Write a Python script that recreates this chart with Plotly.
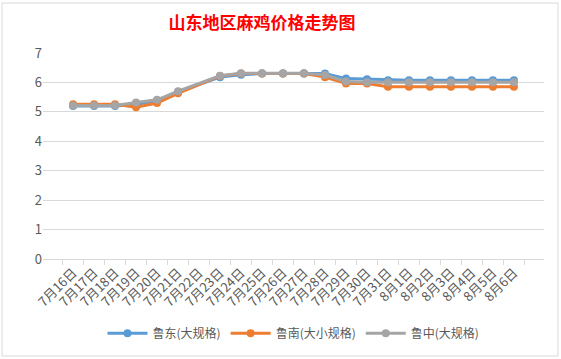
import plotly.graph_objects as go

categories = ["7月16日", "7月17日", "7月18日", "7月19日", "7月20日", "7月21日", "7月22日",
              "7月23日", "7月24日", "7月25日", "7月26日", "7月27日", "7月28日", "7月29日",
              "7月30日", "7月31日", "8月1日", "8月2日", "8月3日", "8月4日", "8月5日", "8月6日"]

ludong = [5.2, 5.2, 5.2, 5.25, 5.38, 5.67, None, 6.18, 6.26, 6.3, 6.3, 6.3, 6.3, 6.13,
          6.11, 6.07, 6.07, 6.07, 6.07, 6.07, 6.07, 6.07]
lunan = [5.26, 5.26, 5.26, 5.16, 5.3, 5.63, None, 6.22, 6.3, 6.3, 6.3, 6.3, 6.18, 5.96,
         5.96, 5.85, 5.85, 5.85, 5.85, 5.85, 5.85, 5.85]
luzhong = [5.22, 5.22, 5.22, 5.32, 5.41, 5.7, None, 6.23, 6.31, 6.31, 6.31, 6.31, 6.25, 6.03,
           6.01, 6.01, 6.01, 6.01, 6.01, 6.01, 6.01, 6.01]

series = [("鲁东(大规格)", ludong, "#5B9BD5"),
          ("鲁南(大小规格)", lunan, "#ED7D31"),
          ("鲁中(大规格)", luzhong, "#A5A5A5")]

font_family = "Noto Sans CJK SC, Noto Sans, sans-serif"
text_color = "#595959"

fig = go.Figure()
for name, vals, color in series:
    fig.add_trace(go.Scatter(
        x=categories, y=vals, name=name, mode="lines+markers",
        connectgaps=True,
        line=dict(color=color, width=3),
        marker=dict(color=color, size=8),
    ))

fig.update_layout(
    width=561, height=359,
    paper_bgcolor="white", plot_bgcolor="white",
    margin=dict(l=43, r=17, t=53, b=100, autoexpand=False),
    title=dict(text="<b>山东地区麻鸡价格走势图</b>", x=0.467, xanchor="center",
               y=0.935, yanchor="middle",
               font=dict(family=font_family, size=17, color="#FF0000")),
    font=dict(family=font_family, size=12, color=text_color),
    showlegend=True,
    legend=dict(orientation="h", x=0.5, xanchor="center", y=-0.36, yanchor="middle",
                font=dict(size=12, color=text_color), itemwidth=40,
                bgcolor="rgba(0,0,0,0)"),
    xaxis=dict(type="category", tickangle=-45, showgrid=False, automargin=False,
               showline=True, linecolor="#D9D9D9", linewidth=1,
               ticks="outside", tickson="boundaries", ticklen=5, tickcolor="#D9D9D9",
               tickfont=dict(size=13, color=text_color)),
    yaxis=dict(range=[0, 7], dtick=1, showgrid=True, gridcolor="#D9D9D9", gridwidth=1,
               zeroline=False, showline=False, ticks="", automargin=False,
               tickfont=dict(size=13, color=text_color)),
    shapes=[dict(type="rect", xref="paper", yref="paper",
                 x0=-41/501, x1=(558-43)/501, y0=-(356-259)/206, y1=(259-3)/206,
                 line=dict(color="#D9D9D9", width=1))],
)

fig.write_html("out.html", config={"displayModeBar": False},
               post_script="document.body.style.margin='0';document.body.style.padding='0';")
